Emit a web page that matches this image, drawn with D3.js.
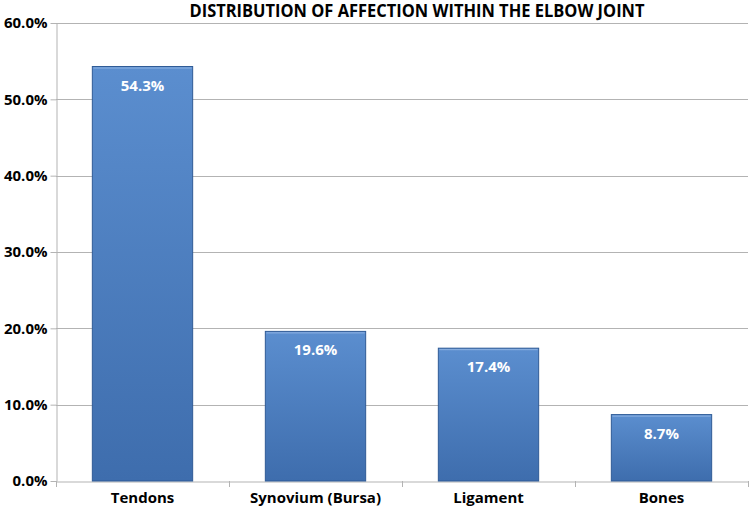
<!DOCTYPE html>
<html><head><meta charset="utf-8">
<script src="https://cdn.jsdelivr.net/npm/d3@7"></script>
<style>body{margin:0;background:#fff}svg{display:block}text{font-family:"Open Sans",Arial,sans-serif;font-weight:bold}</style>
</head><body><svg id="c" width="750" height="510"></svg>
<script>
const categories = ["Tendons","Synovium (Bursa)","Ligament","Bones"];
const values = [54.3,19.6,17.4,8.7];
const yTicks = [0,10,20,30,40,50,60];
const title = "DISTRIBUTION OF AFFECTION WITHIN THE ELBOW JOINT";

const svg = d3.select("#c");
const m = {l:56,r:2,t:23,b:29};
const W=750,H=510;
const x = d3.scaleBand().domain(categories).range([m.l,W-m.r]).paddingInner(0.42).paddingOuter(0.21);
const y = d3.scaleLinear().domain([0,60]).range([H-m.b,m.t]);

const defs = svg.append("defs");
const g = defs.append("linearGradient").attr("id","bg").attr("x1",0).attr("x2",0).attr("y1",0).attr("y2",1);
g.append("stop").attr("offset","0%").attr("stop-color","#5b8ecf");
g.append("stop").attr("offset","100%").attr("stop-color","#3e6dad");

// gridlines
svg.append("g").selectAll("line").data(yTicks.filter(d=>d>0)).join("line")
  .attr("x1",m.l).attr("x2",W-m.r).attr("y1",d=>Math.round(y(d))+0.5).attr("y2",d=>Math.round(y(d))+0.5)
  .attr("stroke","#b3b3b3").attr("stroke-width",1);

// y axis
const ya = svg.append("g").attr("transform",`translate(${m.l+0.5},0)`)
  .call(d3.axisLeft(y).tickValues(yTicks).tickFormat(d=>d.toFixed(1)+"%").tickSize(6).tickSizeOuter(0));
ya.select(".domain").attr("stroke","#b3b3b3");
ya.selectAll(".tick line").attr("stroke","#b3b3b3");
ya.selectAll(".tick text").attr("font-size",15).attr("fill","#000").attr("x",-9).attr("font-family",null);

// x axis
const xa = svg.append("g").attr("transform",`translate(0,${Math.round(y(0))+0.5})`)
  .call(d3.axisBottom(x).tickSize(0).tickSizeOuter(0));
xa.select(".domain").attr("stroke","#b3b3b3");
xa.selectAll(".tick text").attr("font-size",15).attr("fill","#000").attr("dy","1.25em").attr("font-family",null);
const bounds = [m.l, ...categories.map(c=>x(c)+x.bandwidth()+x.step()*x.paddingInner()/2)];
svg.append("g").selectAll("line").data(bounds).join("line")
  .attr("x1",d=>Math.round(d)+0.5).attr("x2",d=>Math.round(d)+0.5)
  .attr("y1",Math.round(y(0))).attr("y2",Math.round(y(0))+6).attr("stroke","#b3b3b3");

// bars
const bars = svg.append("g").selectAll("g").data(categories).join("g");
bars.append("rect").attr("x",c=>x(c)).attr("width",x.bandwidth())
  .attr("y",(c,i)=>y(values[i])).attr("height",(c,i)=>y(0)-y(values[i]))
  .attr("fill","url(#bg)").attr("stroke","#2f5b96").attr("stroke-width",1);
bars.append("line").attr("x1",c=>x(c)+1).attr("x2",c=>x(c)+x.bandwidth()-1)
  .attr("y1",(c,i)=>y(values[i])+1.5).attr("y2",(c,i)=>y(values[i])+1.5)
  .attr("stroke","#8fb3e3").attr("stroke-width",1);
bars.append("text").attr("x",c=>x(c)+x.bandwidth()/2).attr("y",(c,i)=>y(values[i])+24)
  .attr("text-anchor","middle").attr("fill","#fff").attr("font-size",15)
  .text((c,i)=>values[i].toFixed(1)+"%");

svg.append("text").attr("x",417).attr("y",17).attr("text-anchor","middle")
  .attr("font-size",17).attr("fill","#000").attr("textLength",455).attr("lengthAdjust","spacingAndGlyphs").text(title);
</script></body></html>
